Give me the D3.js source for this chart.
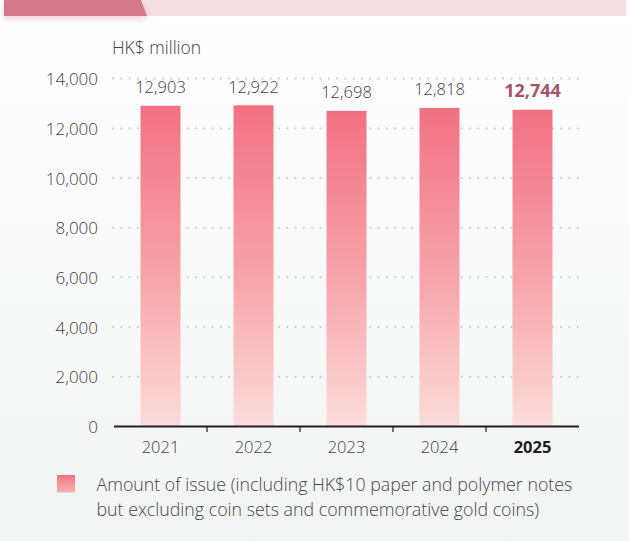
<!DOCTYPE html>
<html>
<head>
<meta charset="utf-8">
<script src="https://cdn.jsdelivr.net/npm/d3@7"></script>
<style>
  html, body { margin: 0; padding: 0; }
  body { width: 629px; height: 541px; overflow: hidden; }
  svg { display: block; font-family: "Open Sans", "Noto Sans", sans-serif; }
</style>
</head>
<body>
<svg></svg>
<script>
var years = ["2021", "2022", "2023", "2024", "2025"];
var amounts = [12903, 12922, 12698, 12818, 12744];
var yTicks = [0, 2000, 4000, 6000, 8000, 10000, 12000, 14000];
var unitLabel = "HK$ million";
var legendLines = ["Amount of issue (including HK$10 paper and polymer notes",
                   "but excluding coin sets and commemorative gold coins)"];

var w = 629, h = 541;
var svg = d3.select("svg").attr("width", w).attr("height", h);
var defs = svg.append("defs");
var last = amounts.length - 1;

// page background
var bg = defs.append("linearGradient").attr("id", "bg")
  .attr("x1", 0).attr("y1", 0).attr("x2", 0).attr("y2", 1);
bg.append("stop").attr("offset", "0%").attr("stop-color", "#ffffff");
bg.append("stop").attr("offset", "100%").attr("stop-color", "#f2f3f3");
svg.append("rect").attr("width", w).attr("height", h).attr("fill", "url(#bg)");

// bar gradient
var bar = defs.append("linearGradient").attr("id", "barGrad")
  .attr("x1", 0).attr("y1", 0).attr("x2", 0).attr("y2", 1);
bar.append("stop").attr("offset", "0%").attr("stop-color", "#f27183");
bar.append("stop").attr("offset", "55%").attr("stop-color", "#f7a6ab");
bar.append("stop").attr("offset", "100%").attr("stop-color", "#fcdcdb");

var leg = defs.append("linearGradient").attr("id", "legGrad")
  .attr("x1", 0).attr("y1", 0).attr("x2", 0).attr("y2", 1);
leg.append("stop").attr("offset", "0%").attr("stop-color", "#f07385");
leg.append("stop").attr("offset", "100%").attr("stop-color", "#f9b3b3");

var shadow = defs.append("filter").attr("id", "shadow")
  .attr("x", "-10%").attr("y", "-50%").attr("width", "130%").attr("height", "250%");
shadow.append("feDropShadow").attr("dx", 0).attr("dy", 3).attr("stdDeviation", 3)
  .attr("flood-color", "#d47a8b").attr("flood-opacity", 0.35);

// top banner
svg.append("rect").attr("x", 120).attr("y", 0).attr("width", 506).attr("height", 16)
  .attr("rx", 2).attr("fill", "#f5dde1");
svg.append("path").attr("d", "M4,0 L141,0 L147,16 L4,16 Z")
  .attr("fill", "#d4788b").attr("filter", "url(#shadow)");

// scales
var x = d3.scaleBand().domain(years).range([114, 579])
  .paddingInner(0.57).paddingOuter(0.285);
var y = d3.scaleLinear().domain([0, 14000]).range([426.5, 78.5]);

// dotted gridlines
svg.append("g").selectAll("line")
  .data(yTicks.filter(function(d) { return d > 0; }))
  .enter().append("line")
  .attr("x1", 113).attr("x2", 579)
  .attr("y1", function(d) { return y(d); })
  .attr("y2", function(d) { return y(d); })
  .attr("stroke", "#c9c9c9").attr("stroke-width", 2)
  .attr("stroke-linecap", "round")
  .attr("stroke-dasharray", "0,8.3");

// y axis labels
var yAxis = d3.axisLeft(y).tickValues(yTicks).tickSize(0).tickPadding(0)
  .tickFormat(d3.format(","));
svg.append("g").attr("transform", "translate(98,0)").call(yAxis)
  .call(function(g) { g.select(".domain").remove(); })
  .selectAll("text")
  .attr("font-family", "Open Sans").attr("font-size", 17).attr("font-weight", 300)
  .attr("fill", "#404040").attr("dy", "0.36em");

svg.append("text").attr("x", 112).attr("y", 54).text(unitLabel)
  .attr("font-size", 17.5).attr("font-weight", 300).attr("fill", "#404040");

// bars
svg.append("g").selectAll("rect")
  .data(amounts).enter().append("rect")
  .attr("x", function(d, i) { return x(years[i]); })
  .attr("y", function(d) { return y(d); })
  .attr("width", x.bandwidth())
  .attr("height", function(d) { return y(0) - y(d); })
  .attr("fill", "url(#barGrad)");

// value labels
svg.append("g").selectAll("text")
  .data(amounts).enter().append("text")
  .attr("x", function(d, i) { return x(years[i]) + x.bandwidth() / 2; })
  .attr("y", function(d) { return y(d) - 12.5; })
  .attr("text-anchor", "middle")
  .attr("font-size", function(d, i) { return i === last ? 18 : 16.5; })
  .attr("font-weight", function(d, i) { return i === last ? 700 : 300; })
  .attr("fill", function(d, i) { return i === last ? "#a4546a" : "#404040"; })
  .text(function(d) { return d3.format(",")(d); });

// x axis
var xAxis = d3.axisBottom(x).tickSize(0).tickPadding(0);
var xg = svg.append("g").attr("transform", "translate(0," + y(0) + ")").call(xAxis);
xg.select(".domain").remove();
xg.selectAll("line").remove();
xg.selectAll("text")
  .attr("y", 26.5)
  .attr("dy", 0)
  .attr("font-family", "Open Sans").attr("font-size", 16.5)
  .attr("font-weight", function(d, i) { return i === years.length - 1 ? 700 : 300; })
  .attr("fill", function(d, i) { return i === years.length - 1 ? "#1e1e1e" : "#404040"; });

svg.append("line").attr("x1", 114).attr("x2", 579)
  .attr("y1", y(0)).attr("y2", y(0))
  .attr("stroke", "#231f20").attr("stroke-width", 2.2);

// separators between year bands
svg.append("g").selectAll("line")
  .data(years.slice(1)).enter().append("line")
  .attr("x1", function(d) { return x(d) - x.step() * x.paddingInner() / 2; })
  .attr("x2", function(d) { return x(d) - x.step() * x.paddingInner() / 2; })
  .attr("y1", y(0)).attr("y2", y(0) + 5.5)
  .attr("stroke", "#231f20").attr("stroke-width", 1.2);

// legend
svg.append("rect").attr("x", 57).attr("y", 475).attr("width", 18).attr("height", 17.5)
  .attr("fill", "url(#legGrad)");
svg.append("g").selectAll("text")
  .data(legendLines).enter().append("text")
  .attr("x", 96.5)
  .attr("y", function(d, i) { return 491 + i * 25; })
  .attr("font-size", 17.8).attr("font-weight", 300).attr("fill", "#474747")
  .text(function(d) { return d; });
</script>
</body>
</html>
